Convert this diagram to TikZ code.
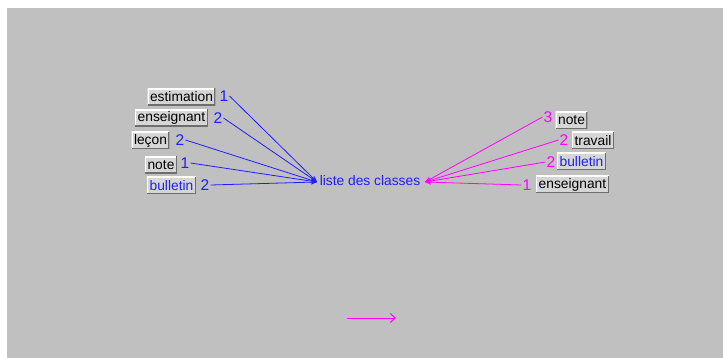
\documentclass[tikz,border=0pt]{standalone}
\usepackage{fontspec}
\setmainfont{Liberation Sans}
\usetikzlibrary{arrows.meta}
\definecolor{bg}{RGB}{192,192,192}
\definecolor{boxfill}{RGB}{214,214,214}
\definecolor{boxdark}{RGB}{110,110,110}
\definecolor{lblue}{RGB}{30,30,255}
\definecolor{lmag}{RGB}{255,0,255}
\tikzset{
  x=1pt, y=-1pt,
  every node/.style={font=\fontsize{13.8}{15}\selectfont},
  field/.style={fill=boxfill, inner xsep=2.5pt, inner ysep=0pt, minimum height=17pt,
    path picture={
      \draw[white, line width=2.4pt] (path picture bounding box.south west) -- (path picture bounding box.north west) -- (path picture bounding box.north east);
      \draw[boxdark, line width=2.4pt] (path picture bounding box.north east) -- (path picture bounding box.south east) -- (path picture bounding box.south west);
    }},
  num/.style={inner sep=1pt, font=\fontsize{15.5}{16}\selectfont},
  bnum/.style={num, text=lblue},
  mnum/.style={num, text=lmag},
  bline/.style={draw=lblue, line width=0.8pt, -{Stealth[length=6pt,width=5pt]}},
  mline/.style={draw=lmag, line width=0.8pt, -{Stealth[length=6pt,width=5pt]}},
}
\begin{document}
\begin{tikzpicture}
\useasboundingbox (0,0) rectangle (728,358);
\fill[white] (0,0) rectangle (728,358);
\fill[bg] (7,8) rectangle (723,358);

% centre
\node[text=lblue, inner sep=0pt] (liste) at (370,181) {liste des classes};
\coordinate (hubL) at (317,182);
\coordinate (hubR) at (425,182);

% left side
\node[field] (estL) at (181.5,97) {estimation};
\node[field] (ensL) at (171.5,118) {enseignant};
\node[field] (lecL) at (150.5,140.5) {leçon};
\node[field] (notL) at (161,165) {note};
\node[field, text=lblue] (bulL) at (171.5,185.5) {bulletin};
\node[bnum] (n1) at (224,96) {1};
\node[bnum] (n2) at (218,118) {2};
\node[bnum] (n3) at (180,140) {2};
\node[bnum] (n4) at (185,163) {1};
\node[bnum] (n5) at (205,185) {2};
\draw[bline] (n1.east) -- (hubL);
\draw[bline] (n2.east) -- (hubL);
\draw[bline] (n3.east) -- (hubL);
\draw[bline] (n4.east) -- (hubL);
\draw[bline] (n5.east) -- (hubL);

% right side
\node[field] (notR) at (571.5,120.5) {note};
\node[field] (travR) at (593,140.5) {travail};
\node[field, text=lblue] (bulR) at (581.5,161.5) {bulletin};
\node[field] (ensR) at (572.5,184.5) {enseignant};
\node[mnum] (m1) at (548,117) {3};
\node[mnum] (m2) at (564,140) {2};
\node[mnum] (m3) at (551,162) {2};
\node[mnum] (m4) at (527,185) {1};
\draw[mline] (m1.west) -- (hubR);
\draw[mline] (m2.west) -- (hubR);
\draw[mline] (m3.west) -- (hubR);
\draw[mline] (m4.west) -- (hubR);

% bottom arrow
\coordinate (aS) at (347,318);
\coordinate (aE) at (396,318);
\draw[draw=lmag, line width=1pt, -{Straight Barb[length=5pt,width=9pt]}] (aS) -- (aE);
\end{tikzpicture}
\end{document}
